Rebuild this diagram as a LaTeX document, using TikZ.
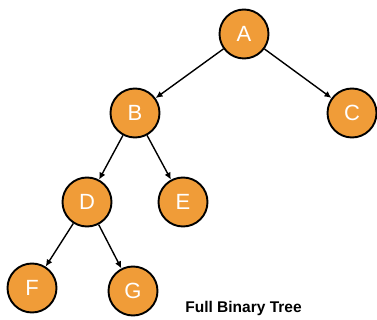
\documentclass[tikz,border=0pt]{standalone}
\usepackage{fontspec}
\setmainfont{Liberation Sans}
\usetikzlibrary{arrows.meta}
\definecolor{nodeorange}{rgb}{0.94, 0.61, 0.22}

\tikzset{
	treenode/.style={circle, draw=black, line width=1.9pt, fill=nodeorange, minimum size=49pt, inner sep=0pt, text=white, font=\fontsize{22}{22}\selectfont},
	treeedge/.style={line width=1.4pt, -{Latex[length=7pt,width=6.5pt]}}
}

\begin{document}
\begin{tikzpicture}[x=1pt,y=1pt,yscale=-1,xscale=1]
	\useasboundingbox (0,0) rectangle (377,320);
	
	% Tree nodes
	\node [treenode] (A) at (244,34) {A};
	\node [treenode] (B) at (135,113) {B};
	\node [treenode] (C) at (352,113) {C};
	\node [treenode] (D) at (87,202) {D};
	\node [treenode] (E) at (183,202) {E};
	\node [treenode] (F) at (32,288) {F};
	\node [treenode] (G) at (133,291) {G};
	
	% Edges
	\draw [treeedge] (A) -- (B);
	\draw [treeedge] (A) -- (C);
	\draw [treeedge] (B) -- (D);
	\draw [treeedge] (B) -- (E);
	\draw [treeedge] (D) -- (F);
	\draw [treeedge] (D) -- (G);
	
	% Text Node
	\node (title) at (243.5,308) {\fontsize{15.5}{15.5}\selectfont\bfseries Full Binary Tree};
	
\end{tikzpicture}
\end{document}
